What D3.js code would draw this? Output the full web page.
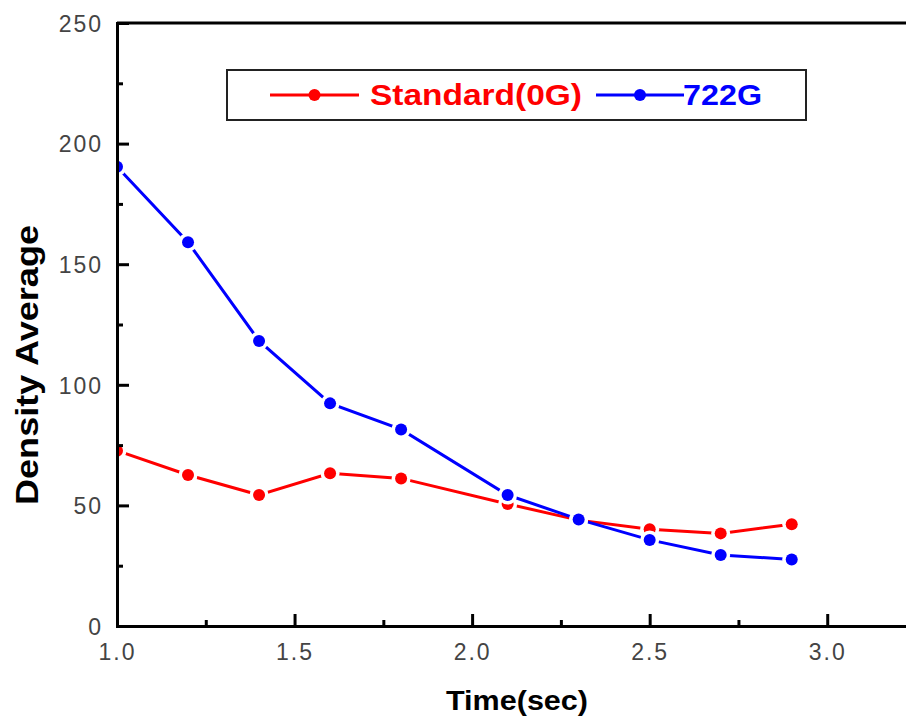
<!DOCTYPE html>
<html>
<head>
<meta charset="utf-8">
<script src="https://cdn.jsdelivr.net/npm/d3@7"></script>
<style>
  html, body { margin: 0; padding: 0; background: #fff; }
  svg { display: block; }
  .tick text { font-family: "Liberation Sans", Arial, sans-serif; font-size: 23px; fill: #444; letter-spacing: 2px; }
</style>
</head>
<body>
<svg id="chart" width="906" height="717"></svg>
<script>
// Time points (seconds)
const times = [1.0, 1.2, 1.4, 1.6, 1.8, 2.1, 2.3, 2.5, 2.7, 2.9];
// Density average, standard sample (0G)
const standard0G = [72.7, 62.6, 54.3, 63.3, 61.2, 50.6, 43.9, 40.1, 38.4, 42.2];
// Density average, 722G sample
const field722G = [190.4, 159.1, 118.2, 92.3, 81.5, 54.3, 44.2, 35.7, 29.4, 27.6];
// Axis ticks
const xMajorTicks = [1.0, 1.5, 2.0, 2.5, 3.0];
const xMinorTicks = [1.25, 1.75, 2.25, 2.75, 3.25];
const yMajorTicks = [0, 50, 100, 150, 200, 250];
const yMinorTicks = [25, 75, 125, 175, 225];
const seriesNames = ["Standard(0G)", "722G"];
const seriesColors = ["#ff0000", "#0000ff"];

const svg = d3.select("#chart");
const plotLeft = 117, plotTop = 23, plotBottom = 626, plotRight = 916;

const x = d3.scaleLinear().domain([1.0, 3.25]).range([plotLeft, plotRight]);
const y = d3.scaleLinear().domain([0, 250]).range([plotBottom, plotTop]);

// Frame: top border
svg.append("line")
  .attr("x1", plotLeft).attr("x2", plotRight).attr("y1", plotTop).attr("y2", plotTop)
  .attr("stroke", "#000").attr("stroke-width", 3);

// Series lines and markers
const line = d3.line().x((d, i) => x(times[i])).y(d => y(d));
[standard0G, field722G].forEach((vals, k) => {
  svg.append("path")
    .datum(vals)
    .attr("d", line)
    .attr("fill", "none")
    .attr("stroke", seriesColors[k])
    .attr("stroke-width", 3);
});
[standard0G, field722G].forEach((vals, k) => {
  const g = svg.append("g");
  g.selectAll("circle.halo").data(vals).join("circle")
    .attr("class", "halo")
    .attr("cx", (d, i) => x(times[i])).attr("cy", d => y(d))
    .attr("r", 9.5).attr("fill", "#fff");
  g.selectAll("circle.dot").data(vals).join("circle")
    .attr("class", "dot")
    .attr("cx", (d, i) => x(times[i])).attr("cy", d => y(d))
    .attr("r", 6).attr("fill", seriesColors[k]);
});
// Clip marks to the left of the y axis
svg.append("rect")
  .attr("x", 0).attr("y", 0).attr("width", plotLeft).attr("height", plotBottom)
  .attr("fill", "#fff");

// X axis
const gxMinor = svg.append("g").attr("transform", `translate(0,${plotBottom})`)
  .call(d3.axisBottom(x).tickValues(xMinorTicks).tickSize(-6).tickFormat(""));
const gx = svg.append("g").attr("transform", `translate(0,${plotBottom})`)
  .call(d3.axisBottom(x).tickValues(xMajorTicks).tickSize(-12).tickFormat(d3.format(".1f")));
gx.selectAll(".tick text").attr("y", 34).attr("dy", 0);

// Y axis
const gyMinor = svg.append("g").attr("transform", `translate(${plotLeft},0)`)
  .call(d3.axisLeft(y).tickValues(yMinorTicks).tickSize(-6).tickFormat(""));
const gy = svg.append("g").attr("transform", `translate(${plotLeft},0)`)
  .call(d3.axisLeft(y).tickValues(yMajorTicks).tickSize(-12).tickFormat(d3.format("d")));
gy.selectAll(".tick text").attr("x", -14).attr("dy", "0.36em");

[gxMinor, gx, gyMinor, gy].forEach(g => {
  g.select(".domain").attr("stroke", "#000").attr("stroke-width", 3);
  g.selectAll(".tick line").attr("stroke", "#000").attr("stroke-width", 3);
});

// Axis titles
svg.append("text")
  .attr("x", 446).attr("y", 710)
  .attr("textLength", 142).attr("lengthAdjust", "spacingAndGlyphs")
  .style("font-family", "'Liberation Sans', Arial, sans-serif")
  .style("font-weight", "bold").style("font-size", "27px").style("fill", "#000")
  .text("Time(sec)");

svg.append("text")
  .attr("transform", "translate(38,505) rotate(-90)")
  .attr("textLength", 280).attr("lengthAdjust", "spacingAndGlyphs")
  .style("font-family", "'Liberation Sans', Arial, sans-serif")
  .style("font-weight", "bold").style("font-size", "31px").style("fill", "#000")
  .text("Density Average");

// Legend
const legend = svg.append("g");
legend.append("rect")
  .attr("x", 227).attr("y", 70).attr("width", 579).attr("height", 50)
  .attr("fill", "#fff").attr("stroke", "#222").attr("stroke-width", 2);

const legendItems = [
  { lx1: 270, lx2: 359, tx: 370, tw: 212 },
  { lx1: 596, lx2: 684, tx: 683, tw: 79 }
];
legendItems.forEach((it, k) => {
  const cy = 95;
  legend.append("line")
    .attr("x1", it.lx1).attr("x2", it.lx2).attr("y1", cy).attr("y2", cy)
    .attr("stroke", seriesColors[k]).attr("stroke-width", 3);
  legend.append("circle")
    .attr("cx", (it.lx1 + it.lx2) / 2).attr("cy", cy).attr("r", 6)
    .attr("fill", seriesColors[k]);
  legend.append("text")
    .attr("x", it.tx).attr("y", 105)
    .attr("textLength", it.tw).attr("lengthAdjust", "spacingAndGlyphs")
    .style("font-family", "'Liberation Sans', Arial, sans-serif")
    .style("font-size", "30px").style("font-weight", "600")
    .style("fill", seriesColors[k])
    .text(seriesNames[k]);
});
</script>
</body>
</html>
